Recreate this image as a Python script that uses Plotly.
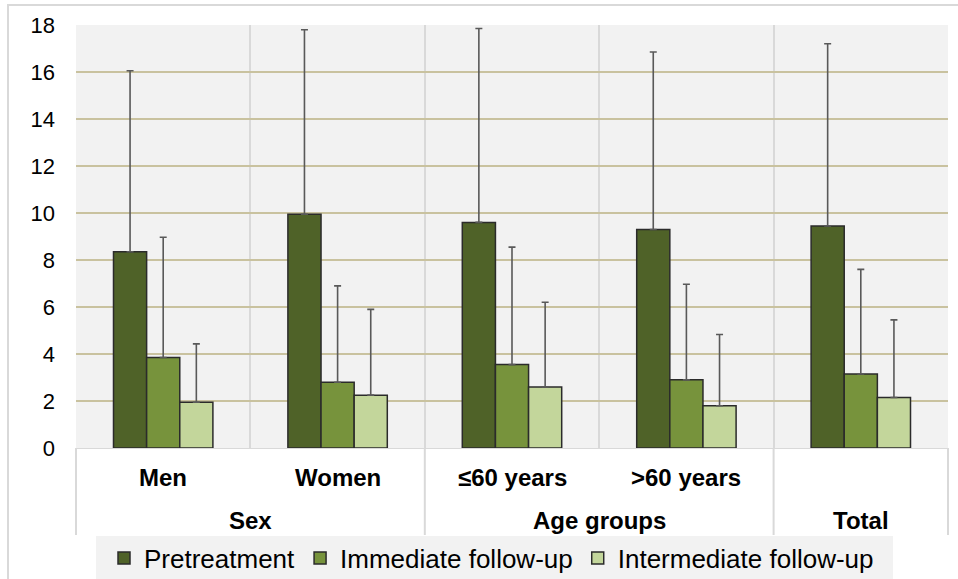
import plotly.graph_objects as go

groups = ["Sex", "Sex", "Age groups", "Age groups", "Total"]
subgroups = ["Men", "Women", "≤60 years", ">60 years", " "]

series_names = ["Pretreatment", "Immediate follow-up", "Intermediate follow-up"]
means = [
    [8.35, 9.95, 9.6, 9.3, 9.45],
    [3.85, 2.8, 3.55, 2.9, 3.15],
    [1.95, 2.25, 2.6, 1.8, 2.15],
]
upper = [
    [16.05, 17.8, 17.85, 16.85, 17.2],
    [8.97, 6.9, 8.55, 6.97, 7.6],
    [4.43, 5.9, 6.2, 4.83, 5.45],
]
colors = ["#4f6228", "#77933c", "#c3d69b"]

W, H = 958, 579
L, R, T, B = 76, 10, 25, 131
pw, ph = W - L - R, H - T - B


def px_x(x):
    return (x - L) / pw


def px_y(y):
    return (H - B - y) / ph


fig = go.Figure()
for name, m, u, c in zip(series_names, means, upper, colors):
    fig.add_trace(go.Bar(
        name=name,
        x=[groups, subgroups],
        y=m,
        marker=dict(color=c, line=dict(color="#2b2b2b", width=1.5)),
        error_y=dict(type="data", symmetric=False,
                     array=[uu - mm for uu, mm in zip(u, m)],
                     arrayminus=[0] * len(m),
                     color="#595959", thickness=1.6, width=3.5),
    ))

n = len(subgroups)
annotations = []
# inner labels
for i, s in enumerate(subgroups):
    annotations.append(dict(text=s, x=(i + 0.5) / n, y=px_y(477), xref="paper", yref="paper",
                            showarrow=False, xanchor="center", yanchor="middle",
                            font=dict(size=24, weight="bold", color="#000000")))
# outer labels and divider positions
outer = []
for i, g in enumerate(groups):
    if outer and outer[-1][0] == g:
        outer[-1][2] = i + 1
    else:
        outer.append([g, i, i + 1])
shapes = []
for g, a, b in outer:
    annotations.append(dict(text=g, x=(a + b) / 2 / n, y=px_y(520), xref="paper", yref="paper",
                            showarrow=False, xanchor="center", yanchor="middle",
                            font=dict(size=24, weight="bold", color="#000000")))
edges = sorted(set([a for _, a, _ in outer] + [b for _, _, b in outer]))
for e in edges:
    shapes.append(dict(type="line", xref="paper", yref="paper", x0=e / n, x1=e / n,
                       y0=0, y1=px_y(535), line=dict(color="#d9d9d9", width=2)))

# outer chart border (left and top visible)
shapes.append(dict(type="rect", xref="paper", yref="paper",
                   x0=px_x(8), x1=px_x(970), y0=px_y(600), y1=px_y(5),
                   line=dict(color="#d9d9d9", width=2), fillcolor="rgba(0,0,0,0)", layer="below"))
# legend background
shapes.append(dict(type="rect", xref="paper", yref="paper",
                   x0=px_x(96), x1=px_x(893), y0=px_y(600), y1=px_y(536),
                   line=dict(width=0), fillcolor="#f2f2f2", layer="below"))

fig.update_layout(
    width=W, height=H,
    margin=dict(l=L, r=R, t=T, b=B, autoexpand=False),
    paper_bgcolor="white",
    plot_bgcolor="#f2f2f2",
    barmode="group",
    bargap=0.43,
    bargroupgap=0,
    font=dict(family="Liberation Sans, Arial, sans-serif", color="#000000"),
    legend=dict(orientation="h", x=px_x(104), xanchor="left", y=px_y(558), yanchor="middle",
                bgcolor="rgba(0,0,0,0)", font=dict(size=26, color="#000000")),
    showlegend=True,
    annotations=annotations,
    shapes=shapes,
)
fig.update_yaxes(range=[0, 18], dtick=2, showgrid=True, gridcolor="#c9c29f", gridwidth=2,
                 zeroline=False, ticks="", tickfont=dict(size=22),
                 ticklabelstandoff=20, showline=False, automargin=False)
fig.update_xaxes(type="multicategory", showgrid=True, gridcolor="#d9d9d9", gridwidth=2,
                 showticklabels=False, ticks="", showdividers=False,
                 showline=True, linecolor="#d9d9d9", linewidth=1, automargin=False)

fig.write_html("out.html", config={"displayModeBar": False},
               post_script="document.body.style.margin='0px';document.body.style.overflow='hidden';")
